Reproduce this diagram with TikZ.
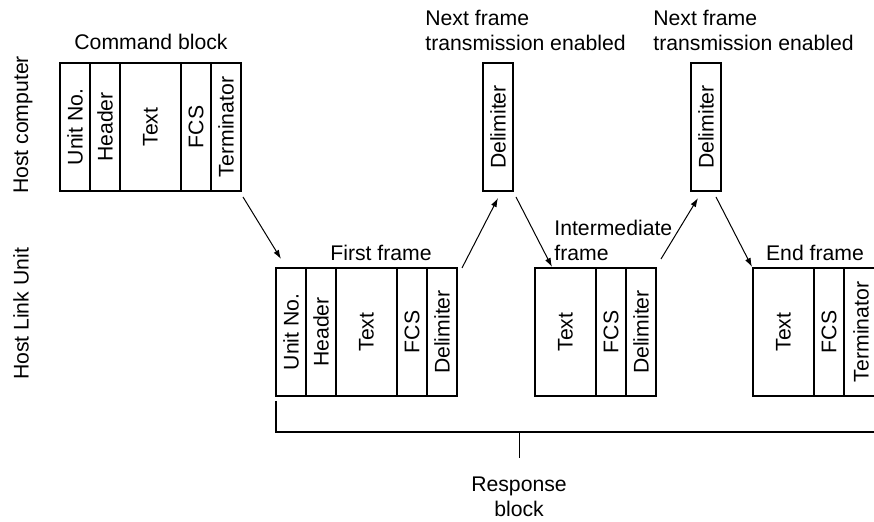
\documentclass[tikz,border=0pt]{standalone}
\usepackage{fontspec}
\setmainfont{Liberation Sans}
\usepackage{graphicx}
\usetikzlibrary{arrows.meta,positioning,calc}

\newcommand{\vtext}[1]{\rotatebox{90}{#1}}

\begin{document}
\begin{tikzpicture}[
    x=0.5pt, y=-0.5pt,
    font=\fontsize{10.6}{12.5}\selectfont,
    node distance=0pt,
    field/.style={draw, line width=0.6pt, inner sep=0pt, outer sep=0pt,
                  minimum width=15pt, minimum height=64pt},
    wide/.style={field, minimum width=30.5pt},
    lbl/.style={inner sep=0pt, align=left},
    line/.style={-{Latex[length=4.5pt,width=3pt]}, line width=0.5pt}
]
\useasboundingbox (0,0) rectangle (874,522);

% side labels
\node[lbl, rotate=90] (hostpc) at (23,125) {Host computer};
\node[lbl, rotate=90] (hlu)    at (21,314) {Host Link Unit};

% command block
\node[field, anchor=north west] (unit) at (60,63) {\vtext{Unit No.}};
\node[field, right=of unit] (head) {\vtext{Header}};
\node[wide,  right=of head] (text) {\vtext{Text}};
\node[field, right=of text] (fcs)  {\vtext{FCS}};
\node[field, right=of fcs]  (term) {\vtext{Terminator}};
\node[lbl] (cmdlbl) at (151,42) {Command block};

% delimiters from the host
\node[field, anchor=north west] (del1) at (483,63)  {\vtext{Delimiter}};
\node[field, anchor=north west] (del2) at (691,63)  {\vtext{Delimiter}};
\node[lbl, anchor=north west] (next1) at (425,10) {Next frame\\transmission enabled};
\node[lbl, anchor=north west] (next2) at (653,10) {Next frame\\transmission enabled};

% first frame
\node[field, anchor=north west] (funit) at (276,268) {\vtext{Unit No.}};
\node[field, right=of funit] (fhead) {\vtext{Header}};
\node[wide,  right=of fhead] (ftext) {\vtext{Text}};
\node[field, right=of ftext] (ffcs)  {\vtext{FCS}};
\node[field, right=of ffcs]  (fdel)  {\vtext{Delimiter}};
\node[lbl] (firstlbl) at (381,253) {First frame};

% intermediate frame
\node[wide,  anchor=north west] (itext) at (535,268) {\vtext{Text}};
\node[field, right=of itext] (ifcs) {\vtext{FCS}};
\node[field, right=of ifcs]  (idel) {\vtext{Delimiter}};
\node[lbl, anchor=north west] (interlbl) at (554,220) {Intermediate\\frame};

% end frame
\node[wide,  anchor=north west] (etext) at (753,268) {\vtext{Text}};
\node[field, right=of etext] (efcs)  {\vtext{FCS}};
\node[field, right=of efcs, minimum width=17pt] (eterm) {\vtext{Terminator}};
\node[lbl] (endlbl) at (815,253) {End frame};

% flow
\draw[line] ($(term.south east)+(2,6)$)  -- ($(funit.north west)+(5,-9)$);
\draw[line] ($(fdel.north east)+(5,0)$)  -- ($(del1.south)+(0,7)$);
\draw[line] ($(del1.south east)+(3,6)$)  -- ($(itext.north west)+(17,-1)$);
\draw[line] ($(idel.north east)+(5,-9)$) -- ($(del2.south)+(-8,7)$);
\draw[line] ($(del2.south east)+(-5,6)$) -- ($(etext.north west)+(-1,-1)$);

% response block
\coordinate (brk) at (519,432);
\draw[line width=0.6pt] ($(funit.south west)+(0,5)$) |- (880,432);
\draw[line width=0.5pt] (brk) -- ++(0,26);
\node[lbl, align=center, anchor=north] (resp) at (519,477) {Response\\block};
\end{tikzpicture}
\end{document}
